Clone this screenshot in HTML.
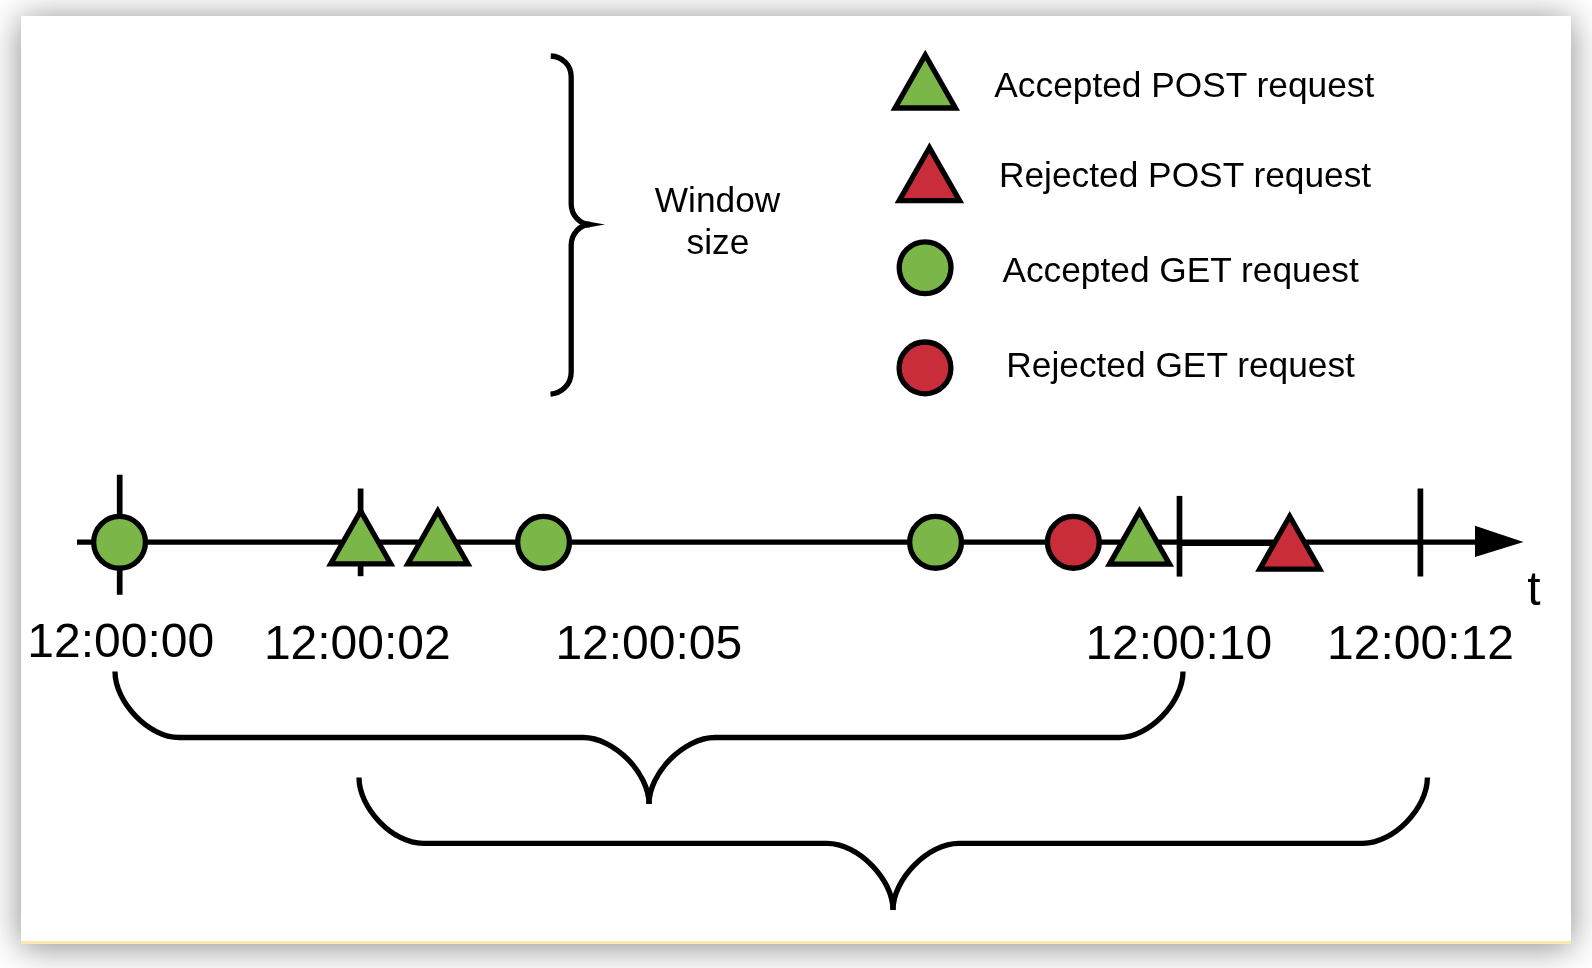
<!DOCTYPE html>
<html>
<head>
<meta charset="utf-8">
<style>
html,body{margin:0;padding:0;}
body{width:1592px;height:968px;background:#ffffff;overflow:hidden;position:relative;font-family:"Liberation Sans",sans-serif;}
#card{position:absolute;left:21px;top:16px;width:1550px;height:925px;background:#fff;border-bottom:3px solid #fde8b0;box-shadow:0 3px 33px rgba(0,0,0,0.47);}
svg{position:absolute;left:0;top:0;will-change:transform;}
text{font-family:"Liberation Sans",sans-serif;fill:#000;}
</style>
</head>
<body>
<div id="card"></div>
<svg width="1592" height="968" viewBox="0 0 1592 968">
  <!-- top brace -->
  <g fill="none" stroke="#000" stroke-width="5.3">
    <path d="M550.8,56 C562,56.5 571.2,65 571.2,77 L571.2,204 C571.2,215 580,224.5 590,224.5"/>
    <path d="M550.5,394.2 C561,393.5 571.2,385 571.2,372 L571.2,245 C571.2,234 580,224.5 590,224.5"/>
  </g>
  <polygon points="582,220.6 605,224.6 582,228.6" fill="#000"/>
  <text x="717.5" y="211.6" font-size="35.3" text-anchor="middle">Window</text>
  <text x="718" y="253.9" font-size="35.3" text-anchor="middle">size</text>

  <!-- legend -->
  <g stroke="#000" stroke-width="5.3" stroke-linejoin="miter">
    <polygon points="925.25,55.00 895.05,108.0 955.45,108.0" fill="#7ab648"/>
    <polygon points="929.4,147.70 899.20,200.7 959.60,200.7" fill="#c92d39"/>
    <circle cx="925.1" cy="267.7" r="25.9" fill="#7ab648"/>
    <circle cx="925" cy="367.9" r="25.9" fill="#c92d39"/>
  </g>
  <text x="994.3" y="97" font-size="35.3">Accepted POST request</text>
  <text x="999" y="186.8" font-size="35.3">Rejected POST request</text>
  <text x="1002.4" y="281.8" font-size="35.3">Accepted GET request</text>
  <text x="1006.3" y="376.8" font-size="35.3">Rejected GET request</text>

  <!-- timeline -->
  <g stroke="#000" stroke-width="5.3">
    <line x1="77" y1="542.05" x2="1480" y2="542.05"/>
    <line x1="1179.5" y1="543.3" x2="1290" y2="543.3"/>
  </g>
  <g stroke="#000" stroke-width="5.7">
    <line x1="119.7" y1="474.7" x2="119.7" y2="594.8"/>
    <line x1="360.6" y1="488.5" x2="360.6" y2="576.2"/>
    <line x1="1179.5" y1="495.9" x2="1179.5" y2="576.6"/>
    <line x1="1420.4" y1="488.5" x2="1420.4" y2="576.5"/>
  </g>
  <polygon points="1475,525.8 1523.5,541.9 1475,556.9" fill="#000"/>
  <g stroke="#000" stroke-width="5.3" stroke-linejoin="miter">
    <circle cx="119.55" cy="542.35" r="25.9" fill="#7ab648"/>
    <polygon points="360.7,511.00 330.70,563.8 390.70,563.8" fill="#7ab648"/>
    <polygon points="437.8,511.00 407.80,563.8 467.80,563.8" fill="#7ab648"/>
    <circle cx="543.55" cy="542.35" r="25.9" fill="#7ab648"/>
    <circle cx="935.55" cy="542.35" r="25.9" fill="#7ab648"/>
    <circle cx="1073.35" cy="542.35" r="25.9" fill="#c92d39"/>
    <polygon points="1139.5,511.30 1109.50,564.1 1169.50,564.1" fill="#7ab648"/>
    <polygon points="1289.7,516.30 1259.70,569.1 1319.70,569.1" fill="#c92d39"/>
  </g>
  <text x="1527.2" y="605" font-size="48">t</text>

  <!-- timestamps -->
  <text x="27.3" y="657.2" font-size="48">12:00:00</text>
  <text x="263.9" y="659" font-size="48">12:00:02</text>
  <text x="555.4" y="658.8" font-size="48">12:00:05</text>
  <text x="1085.4" y="658.8" font-size="48">12:00:10</text>
  <text x="1327.1" y="659.3" font-size="48">12:00:12</text>

  <!-- bottom braces -->
  <g fill="none" stroke="#000" stroke-width="5.3">
    <path d="M115,671.5 C115,702.52 148.92,737.5 179,737.5 L583.0,737.5 C614.02,737.5 649.0,772.98 649.0,804"/>
    <path d="M1183,671.5 C1183,702.52 1149.08,737.5 1119,737.5 L715.0,737.5 C683.98,737.5 649.0,772.98 649.0,804"/>
    <path d="M359,777.5 C359,808.52 392.92,843.3 423,843.3 L827.0,843.3 C858.02,843.3 893.0,878.98 893.0,910"/>
    <path d="M1427.4,777.5 C1427.4,808.52 1393.08,843.3 1363,843.3 L959.0,843.3 C927.98,843.3 893.0,878.98 893.0,910"/>
  </g>
</svg>
</body>
</html>
